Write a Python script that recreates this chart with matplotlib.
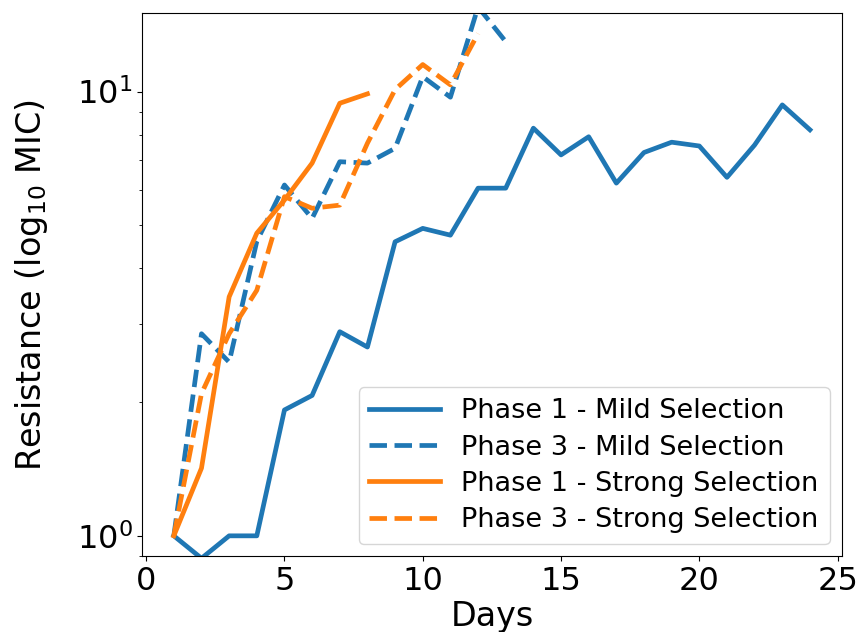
import matplotlib
matplotlib.use('Agg')
import matplotlib.pyplot as plt

# days for each series
days_p1_mild = list(range(1, 25))
days_p3_mild = list(range(1, 14))
days_p1_strong = list(range(1, 9))
days_p3_strong = list(range(1, 13))

# MIC values
p1_mild = [1.0, 0.89, 1.0, 1.0, 1.92, 2.07, 2.88, 2.66, 4.59, 4.92, 4.75, 6.06,
           6.06, 8.27, 7.2, 7.91, 6.22, 7.29, 7.69, 7.54, 6.41, 7.58, 9.33, 8.2]
p3_mild = [1.0, 2.85, 2.46, 4.6, 6.16, 5.18, 6.95, 6.9, 7.45, 10.8, 9.71, 15.5, 12.95]
p1_strong = [1.0, 1.42, 3.45, 4.8, 5.7, 6.9, 9.41, 9.88]
p3_strong = [1.0, 2.09, 2.85, 3.57, 5.8, 5.46, 5.55, 7.65, 10.1, 11.5, 10.35, 13.5]

blue = '#1f77b4'
orange = '#ff7f0e'

fig = plt.figure(figsize=(8.66, 6.32), dpi=100)
ax = fig.add_axes([0.164, 0.12, 0.808, 0.859])

ax.plot(days_p1_mild, p1_mild, color=blue, lw=3.4, label='Phase 1 - Mild Selection')
ax.plot(days_p3_mild, p3_mild, color=blue, lw=3.4, ls='--', label='Phase 3 - Mild Selection')
ax.plot(days_p1_strong, p1_strong, color=orange, lw=3.4, label='Phase 1 - Strong Selection')
ax.plot(days_p3_strong, p3_strong, color=orange, lw=3.4, ls='--', label='Phase 3 - Strong Selection')

ax.set_yscale('log')
ax.set_xlim(-0.15, 25.15)
ax.set_ylim(0.9, 15.0)
ax.set_xticks([0, 5, 10, 15, 20, 25])
ax.tick_params(axis='both', which='major', labelsize=23)
ax.set_xlabel('Days', fontsize=24, labelpad=2)
ax.set_ylabel('Resistance (log$_{10}$ MIC)', fontsize=24, labelpad=19)
ax.legend(loc='lower right', fontsize=19.5, handlelength=2.6,
          labelspacing=0.38, borderaxespad=0.45)

fig.savefig('out.png', dpi=100)
